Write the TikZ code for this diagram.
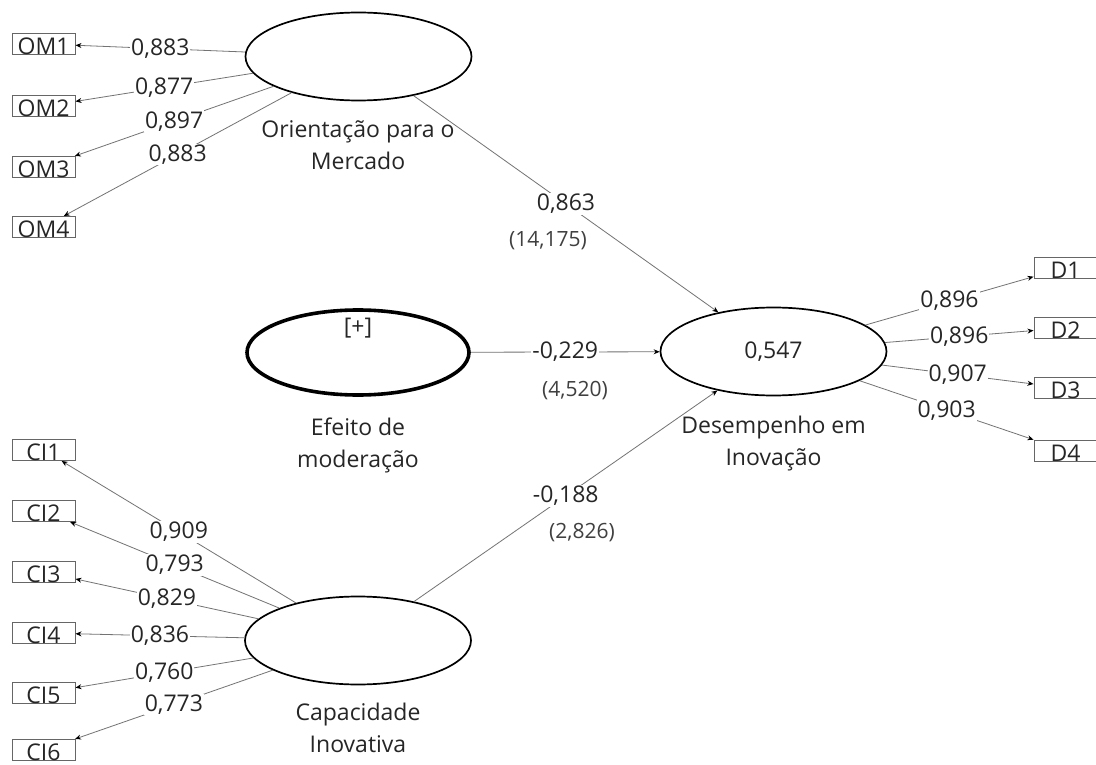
\documentclass[tikz,border=0pt]{standalone}
\usepackage{fontspec}
\setmainfont{Open Sans}
\usetikzlibrary{shapes.geometric,arrows.meta}
\begin{document}
\begin{tikzpicture}[x=1pt,y=-1pt,
  every node/.style={text=black!85},
  lv/.style={ellipse, draw=black, line width=1.7pt, minimum width=226pt, minimum height=88pt, inner sep=0pt, font=\fontsize{23}{28}\selectfont},
  lvmod/.style={lv, line width=3.6pt, minimum width=222pt, minimum height=85pt},
  ind/.style={draw=black!60, line width=1pt, minimum width=63pt, minimum height=21pt, inner sep=0pt, text height=21pt, text depth=0pt, font=\fontsize{23}{28}\selectfont},
  link/.style={draw=black!55, line width=0.8pt, -{Stealth[length=6pt,width=5pt,color=black]}},
  coef/.style={fill=white, inner sep=1pt, font=\fontsize{23}{28}\selectfont},
  tval/.style={inner sep=1pt, font=\fontsize{21}{26}\selectfont, text=black!75},
  lvtitle/.style={align=center, inner sep=0pt, font=\fontsize{23}{32}\selectfont}
]
\fill[white] (0,0) rectangle (1096,765);
\useasboundingbox (0,0) rectangle (1096,765);

% latent variables
\node[lv] (om) at (358.5,56.5) {};
\node[lvmod] (ef) at (358,352.5) {};
\node[lv] (de) at (773.5,351.5) {0,547};
\node[lv] (ci) at (358,640.5) {};

\node[inner sep=0pt, font=\fontsize{23}{28}\selectfont] (efplus) at (358,328) {[+]};

\node[lvtitle] (omcap) at (358,147.6) {\strut Orientação para o\\\strut Mercado};
\node[lvtitle] (efcap) at (358,444.6) {\strut Efeito de\\\strut moderação};
\node[lvtitle] (decap) at (773.5,442.6) {\strut Desempenho em\\\strut Inovação};
\node[lvtitle] (cicap) at (358,729.6) {\strut Capacidade\\\strut Inovativa};

% indicators
\node[ind] (om1) at (43.5,44) {OM1};
\node[ind] (om2) at (43.5,106.5) {OM2};
\node[ind] (om3) at (43.5,167) {OM3};
\node[ind] (om4) at (43.5,227) {OM4};

\node[ind] (ci1) at (43.5,450) {CI1};
\node[ind] (ci2) at (43.5,511) {CI2};
\node[ind] (ci3) at (43.5,572) {CI3};
\node[ind] (ci4) at (43.5,633) {CI4};
\node[ind] (ci5) at (43.5,693) {CI5};
\node[ind] (ci6) at (43.5,750) {CI6};

\node[ind] (d1) at (1065.5,267.5) {D1};
\node[ind] (d2) at (1065.5,328) {D2};
\node[ind] (d3) at (1065.5,388) {D3};
\node[ind] (d4) at (1065.5,450.5) {D4};

% outer loadings
\draw[link] (om) -- node[coef] {0,883} (om1);
\draw[link] (om) -- node[coef] {0,877} (om2);
\draw[link] (om) -- node[coef] {0,897} (om3);
\draw[link] (om) -- node[coef] {0,883} (om4);

\draw[link] (ci) -- node[coef] {0,909} (ci1);
\draw[link] (ci) -- node[coef] {0,793} (ci2);
\draw[link] (ci) -- node[coef] {0,829} (ci3);
\draw[link] (ci) -- node[coef] {0,836} (ci4);
\draw[link] (ci) -- node[coef] {0,760} (ci5);
\draw[link] (ci) -- node[coef] {0,773} (ci6);

\draw[link] (de) -- node[coef] {0,896} (d1);
\draw[link] (de) -- node[coef] {0,896} (d2);
\draw[link] (de) -- node[coef] {0,907} (d3);
\draw[link] (de) -- node[coef] {0,903} (d4);

% structural paths
\draw[link] (om) -- node[coef] (p1) {0,863} (de);
\draw[link] (ef) -- node[coef] (p2) {-0,229} (de);
\draw[link] (ci) -- node[coef] (p3) {-0,188} (de);

\node[tval] (t1) at (548,241) {(14,175)};
\node[tval] (t2) at (575,391) {(4,520)};
\node[tval] (t3) at (582,533) {(2,826)};
\end{tikzpicture}
\end{document}
